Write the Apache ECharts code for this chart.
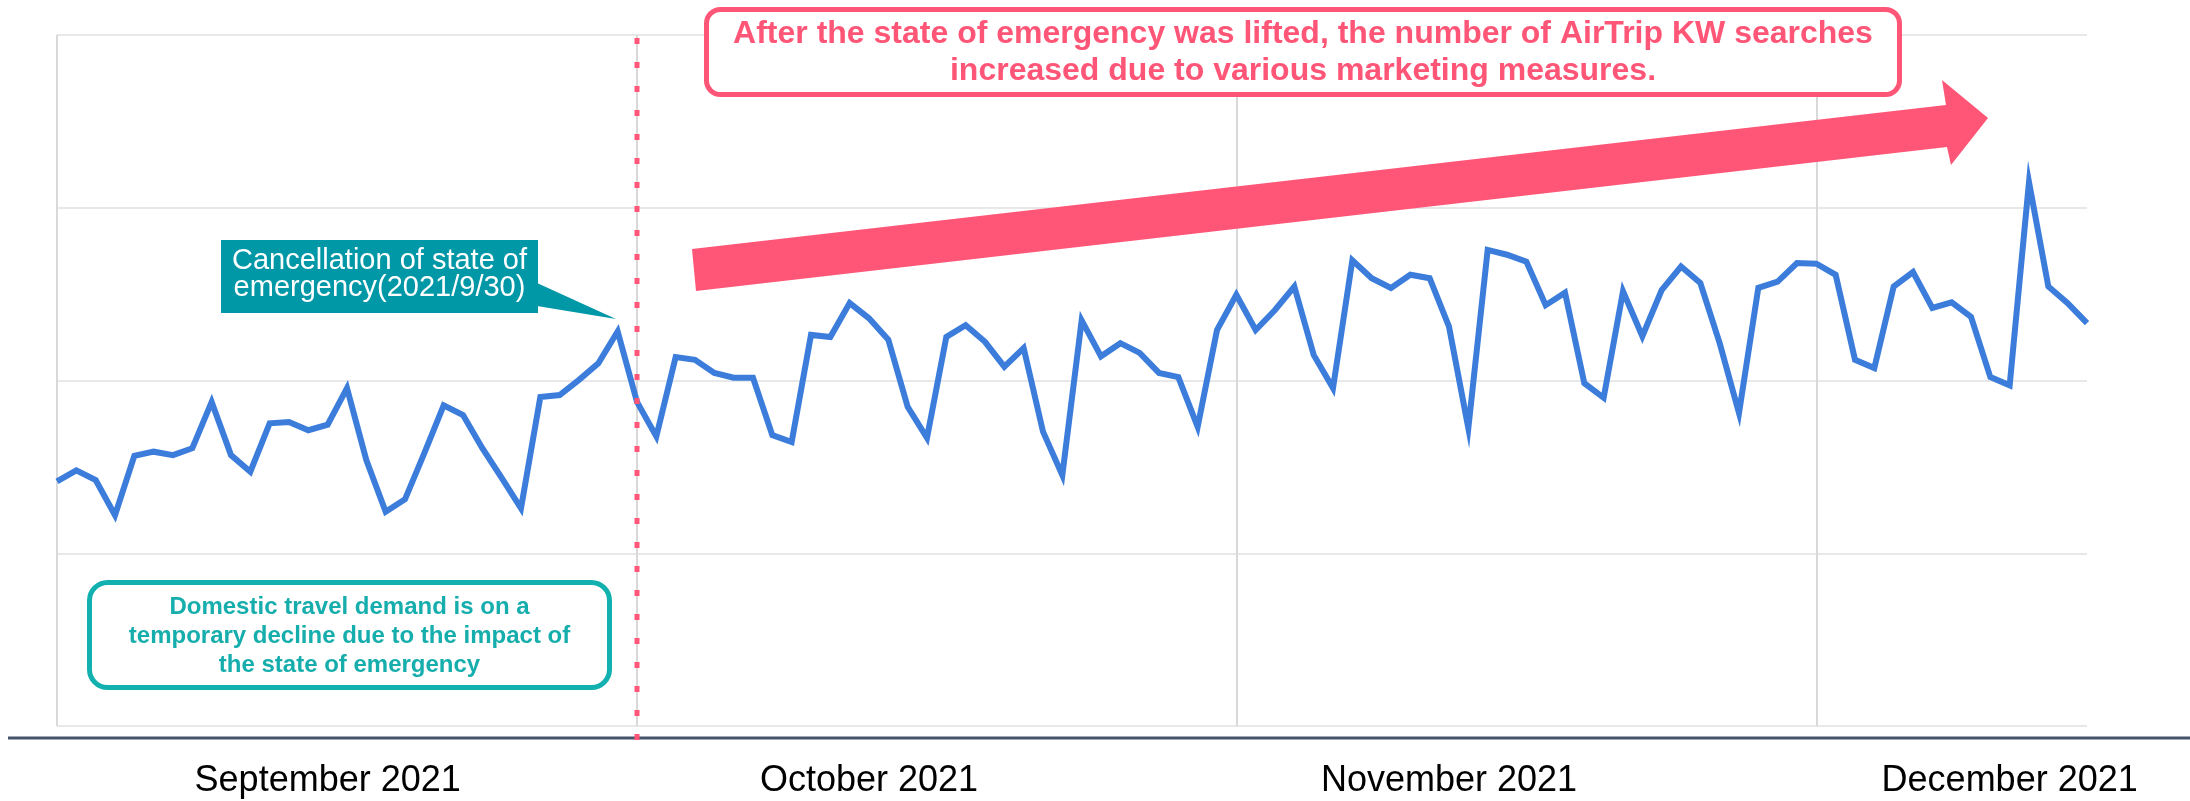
<!DOCTYPE html>
<html>
<head>
<meta charset="utf-8">
<title>AirTrip KW search trend, Sep–Dec 2021</title>
<script src="https://cdn.jsdelivr.net/npm/echarts@6/dist/echarts.min.js"></script>
<style>
  html, body { margin: 0; padding: 0; background: #ffffff; }
  #chart { width: 2190px; height: 801px; }
</style>
</head>
<body>
<div id="chart"></div>
<script>
// Daily relative search interest for the AirTrip keyword, one array per month
const septValues = [
  35.4, 37.0, 35.6, 30.5, 39.1, 39.7, 39.2, 40.2, 46.9, 39.2,
  36.8, 43.8, 44.0, 42.8, 43.6, 48.9, 38.5, 31.0, 32.8, 39.5,
  46.4, 45.0, 40.2, 35.9, 31.5, 47.6, 47.9, 50.1, 52.5, 57.1
];
const octValues = [
  46.9, 41.9, 53.4, 53.0, 51.1, 50.4, 50.4, 42.1, 41.1, 56.6,
  56.3, 61.2, 59.0, 55.9, 46.2, 41.7, 56.3, 58.0, 55.6, 52.0,
  54.7, 42.6, 36.3, 58.7, 53.5, 55.4, 54.0, 51.1, 50.5, 43.3,
  57.3
];
const novValues = [
  62.4, 57.3, 60.2, 63.6, 53.7, 48.9, 67.4, 64.8, 63.4, 65.3,
  64.8, 57.8, 43.1, 68.9, 68.2, 67.2, 60.9, 62.7, 49.6, 47.5,
  62.9, 56.4, 63.1, 66.5, 64.1, 55.4, 45.3, 63.4, 64.3, 67.0
];
const decValues = [
  66.9, 65.3, 53.0, 51.8, 63.6, 65.7, 60.5, 61.3, 59.2, 50.5,
  49.3, 78.7, 63.6, 61.2, 58.3
];
const searchIndex = [].concat(septValues, octValues, novValues, decValues);

// Day categories, starting 2021-09-01
const dates = [];
(function () {
  const d = new Date(Date.UTC(2021, 8, 1));
  for (let i = 0; i < searchIndex.length; i++) {
    dates.push(d.toISOString().slice(0, 10));
    d.setUTCDate(d.getUTCDate() + 1);
  }
})();

// Vertical grid lines at the first day of each month
const monthStarts = ['2021-09-01', '2021-10-01', '2021-11-01', '2021-12-01'];
// Month captions along the bottom
const monthLabelDates = ['2021-09-15', '2021-10-13', '2021-11-12', '2021-12-11'];
const monthLabels = ['September 2021', 'October 2021', 'November 2021', 'December 2021'];
// Day the state of emergency ended (line drawn at the start of the next day)
const liftedDate = '2021-10-01';

const FONT = "'Liberation Sans', Arial, sans-serif";
const PINK = '#ff5577';
const TEAL_DARK = '#0097a7';
const TEAL = '#13b0b0';

const chart = echarts.init(document.getElementById('chart'), null, { renderer: 'canvas' });

chart.setOption({
  animation: false,
  backgroundColor: '#ffffff',
  grid: { left: 57, right: 103, top: 35, bottom: 75 },
  xAxis: {
    type: 'category',
    data: dates,
    boundaryGap: false,
    axisLine: { show: false },
    axisTick: { show: false },
    axisLabel: {
      interval: function (i, v) { return monthLabelDates.indexOf(v) >= 0; },
      formatter: function (v) { return monthLabels[monthLabelDates.indexOf(v)]; },
      fontFamily: FONT,
      fontSize: 36,
      color: '#000000',
      margin: 37
    },
    splitLine: {
      show: true,
      interval: function (i, v) { return monthStarts.indexOf(v) >= 0; },
      lineStyle: { color: '#d9d9d9', width: 2 }
    }
  },
  yAxis: {
    type: 'value',
    min: 0,
    max: 100,
    interval: 25,
    axisLine: { show: false },
    axisTick: { show: false },
    axisLabel: { show: false },
    splitLine: { show: true, lineStyle: { color: '#e8e8e8', width: 2 } }
  },
  series: [{
    type: 'line',
    data: searchIndex,
    symbol: 'none',
    z: 3,
    lineStyle: { color: '#3c7ddc', width: 6, join: 'miter' }
  }]
});

const xLift = chart.convertToPixel({ xAxisIndex: 0 }, liftedDate);

chart.setOption({
  graphic: [
    // baseline under the plot
    {
      type: 'line', z: 5,
      shape: { x1: 8, y1: 738, x2: 2190, y2: 738 },
      style: { stroke: '#44546a', lineWidth: 3 }
    },
    // state of emergency lifted
    {
      type: 'line', z: 20,
      shape: { x1: xLift, y1: 38, x2: xLift, y2: 747 },
      style: { stroke: PINK, lineWidth: 5, lineDash: [6, 18] }
    },
    // callout for the cancellation date
    {
      type: 'rect', z: 15,
      shape: { x: 221, y: 240, width: 317, height: 73 },
      style: { fill: TEAL_DARK }
    },
    {
      type: 'polygon', z: 15,
      shape: { points: [[537, 283], [616, 319], [537, 306]] },
      style: { fill: TEAL_DARK }
    },
    {
      type: 'text', z: 16,
      x: 379.5, y: 274,
      style: {
        text: 'Cancellation of state of\nemergency(2021/9/30)',
        fill: '#ffffff',
        fontFamily: FONT, fontSize: 29, lineHeight: 27,
        align: 'center', verticalAlign: 'middle',
        textAlign: 'center', textVerticalAlign: 'middle'
      }
    },
    // note on the September dip
    {
      type: 'rect', z: 15,
      shape: { x: 89.5, y: 582.5, width: 520, height: 105, r: 18 },
      style: { fill: '#ffffff', stroke: TEAL, lineWidth: 5 }
    },
    {
      type: 'text', z: 16,
      x: 349.5, y: 636,
      style: {
        text: 'Domestic travel demand is on a\ntemporary decline due to the impact of\nthe state of emergency',
        fill: '#16adad',
        fontFamily: FONT, fontSize: 24, fontWeight: 'bold', lineHeight: 29,
        align: 'center', verticalAlign: 'middle',
        textAlign: 'center', textVerticalAlign: 'middle'
      }
    },
    // note on the recovery after the lift
    {
      type: 'rect', z: 15,
      shape: { x: 706.5, y: 9.5, width: 1193, height: 85, r: 14 },
      style: { fill: '#ffffff', stroke: PINK, lineWidth: 5 }
    },
    {
      type: 'text', z: 16,
      x: 1303, y: 52.5,
      style: {
        text: 'After the state of emergency was lifted, the number of AirTrip KW searches\nincreased due to various marketing measures.',
        fill: PINK,
        fontFamily: FONT, fontSize: 32, fontWeight: 'bold', lineHeight: 37,
        align: 'center', verticalAlign: 'middle',
        textAlign: 'center', textVerticalAlign: 'middle'
      }
    },
    // upward trend arrow
    {
      type: 'polygon', z: 15,
      shape: {
        points: [[692, 249], [1946, 105], [1942, 80], [1988, 118], [1951, 165], [1947, 147], [696, 291]]
      },
      style: { fill: PINK }
    }
  ]
});
</script>
</body>
</html>
